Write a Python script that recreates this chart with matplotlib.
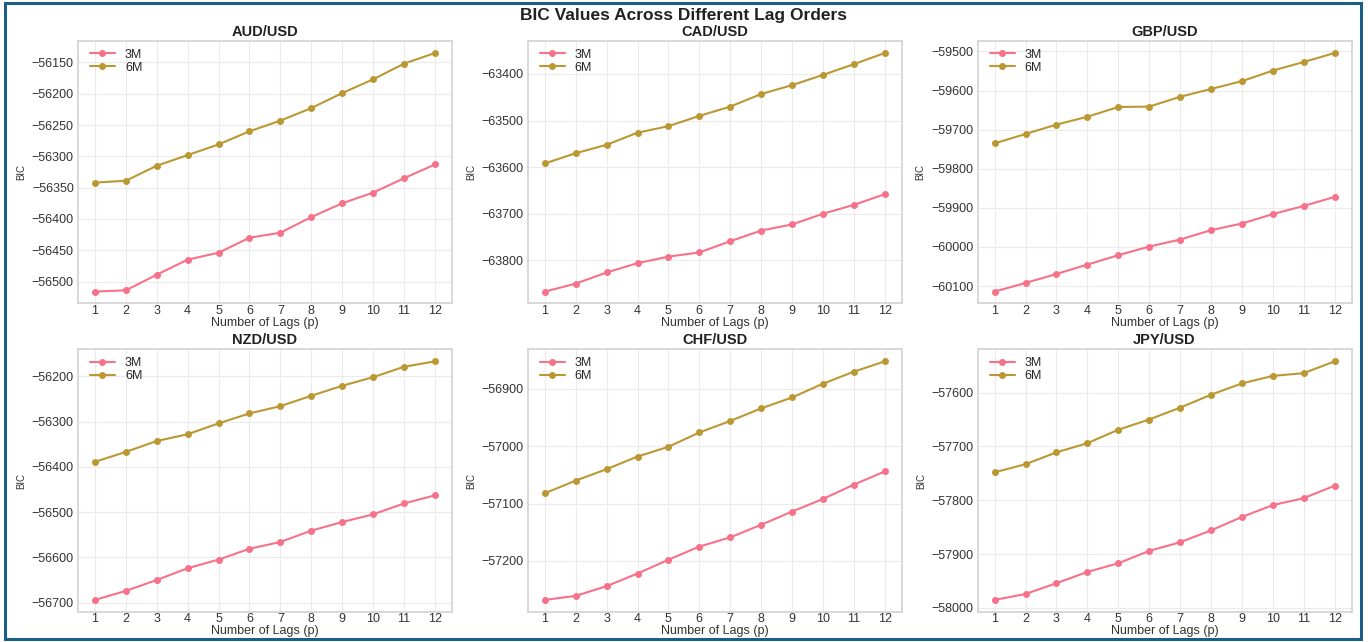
import numpy as np
import matplotlib
matplotlib.use("Agg")
import matplotlib.pyplot as plt
from matplotlib.patches import Rectangle

# BIC by lag order for each currency pair, 3M and 6M horizons
lags = list(range(1, 13))
pairs = ['AUD/USD', 'CAD/USD', 'GBP/USD', 'NZD/USD', 'CHF/USD', 'JPY/USD']

aud_3m = [-56516, -56514, -56489, -56465, -56454, -56430, -56422, -56397, -56375, -56358, -56335, -56313]
aud_6m = [-56342, -56339, -56315, -56298, -56281, -56260, -56243, -56223, -56199, -56177, -56152, -56135]
cad_3m = [-63867, -63850, -63826, -63806, -63792, -63783, -63759, -63736, -63723, -63700, -63681, -63658]
cad_6m = [-63592, -63570, -63552, -63526, -63512, -63490, -63470, -63443, -63424, -63402, -63379, -63355]
gbp_3m = [-60114, -60092, -60069, -60045, -60021, -59999, -59981, -59957, -59940, -59916, -59895, -59872]
gbp_6m = [-59735, -59711, -59687, -59667, -59642, -59641, -59616, -59596, -59576, -59549, -59527, -59504]
nzd_3m = [-56694, -56674, -56650, -56624, -56605, -56581, -56566, -56541, -56522, -56505, -56481, -56463]
nzd_6m = [-56389, -56367, -56343, -56328, -56304, -56282, -56266, -56243, -56221, -56202, -56179, -56167]
chf_3m = [-57268, -57261, -57244, -57222, -57198, -57175, -57159, -57137, -57114, -57092, -57067, -57044]
chf_6m = [-57082, -57060, -57040, -57018, -57001, -56976, -56956, -56934, -56915, -56891, -56870, -56852]
jpy_3m = [-57985, -57974, -57954, -57933, -57917, -57894, -57878, -57856, -57831, -57809, -57796, -57773]
jpy_6m = [-57748, -57733, -57711, -57694, -57669, -57650, -57628, -57604, -57583, -57569, -57564, -57542]

bic_3m = [aud_3m, cad_3m, gbp_3m, nzd_3m, chf_3m, jpy_3m]
bic_6m = [aud_6m, cad_6m, gbp_6m, nzd_6m, chf_6m, jpy_6m]

plt.style.use('seaborn-v0_8-whitegrid')
plt.rcParams['font.family'] = ['Liberation Sans', 'DejaVu Sans']

c3 = '#f77189'
c6 = '#bb9832'

fig, axes = plt.subplots(2, 3, figsize=(13.68, 6.42), dpi=100)
fig.subplots_adjust(left=0.057, right=0.988, top=0.936, bottom=0.047,
                    wspace=0.203, hspace=0.175)

for ax, name, y3, y6 in zip(axes.flat, pairs, bic_3m, bic_6m):
    ax.plot(lags, y3, marker='o', color=c3, lw=1.5, ms=4, label='3M')
    ax.plot(lags, y6, marker='o', color=c6, lw=1.5, ms=4, label='6M')
    ax.set_title(name, fontsize=10.5, fontweight='bold', color='#222222', pad=4)
    ax.set_xlabel('Number of Lags (p)', fontsize=9, color='#333333', labelpad=0)
    ax.set_ylabel('BIC', fontsize=7, color='#333333', labelpad=4)
    ax.set_xticks(lags)
    ax.tick_params(labelsize=9, colors='#333333')
    ax.tick_params(axis='x', pad=1)
    ax.tick_params(axis='y', pad=3)
    ax.grid(True, color='#ebebeb', lw=0.8)
    for s in ax.spines.values():
        s.set_visible(True)
        s.set_color('#d6d6d6')
        s.set_linewidth(1.3)
    ax.legend(loc='upper left', bbox_to_anchor=(0.012, 1.0), fontsize=9,
              frameon=False, borderaxespad=0.2, handletextpad=0.8,
              labelspacing=0.1)

fig.suptitle('BIC Values Across Different Lag Orders', fontsize=12.5,
             fontweight='bold', color='#222222', y=0.988)

# frame around the whole figure
fig.patches.append(Rectangle((0.004, 0.004), 0.991, 0.991, transform=fig.transFigure,
                             fill=False, edgecolor='#1b5e87', lw=2.2))

fig.savefig('out.png', dpi=100)
